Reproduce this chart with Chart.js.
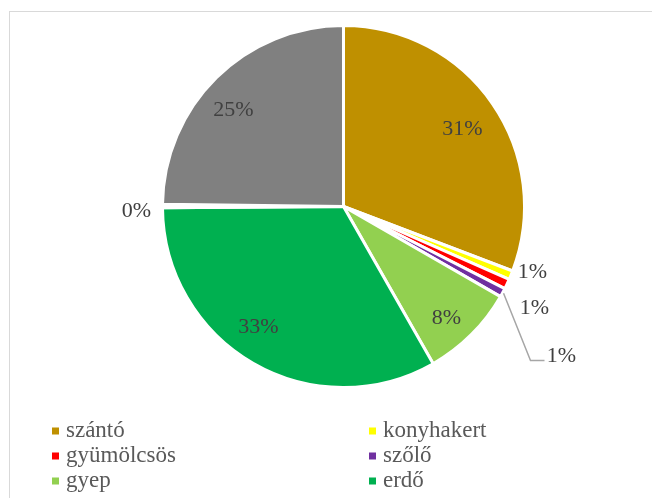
<!DOCTYPE html>
<html>
<head>
<meta charset="utf-8">
<title>Földhasználat</title>
<script src="https://cdn.jsdelivr.net/npm/chart.js@4"></script>
<style>
  html, body { margin: 0; padding: 0; background: #fff; }
  #wrap { position: relative; width: 652px; height: 498px; overflow: hidden; }
  #frame { position: absolute; left: 9px; top: 11px; width: 700px; height: 600px; border: 1px solid #d9d9d9; }
  #landChart { position: absolute; left: 0; top: 0; }
</style>
</head>
<body>
<div id="wrap">
  <div id="frame"></div>
  <canvas id="landChart" width="652" height="498"></canvas>
</div>
<script>
// művelési ágak aránya (%)
const categories = ['szántó', 'konyhakert', 'gyümölcsös', 'szőlő', 'gyep', 'erdő', 'nádas', 'kivett'];
const shares = [30.8, 0.8, 0.9, 0.8, 8.45, 33.15, 0.3, 24.8];
const colors = ['#BF9000', '#FFFF00', '#FF0000', '#7030A0', '#92D050', '#00B050', '#FFFFFF', '#808080'];

// csak az első hat kategória kerül a jelmagyarázatba
const legendCount = 6;

// címkék helye a kör középpontjához képest (px)
const labelOffsets = [
  [119, -77], [189, 66], [191, 102], [218, 150],
  [103, 112], [-85, 121], [-207, 5], [-110, -96]
];

const pieLabels = {
  id: 'pieLabels',
  afterDatasetsDraw(chart) {
    const ctx = chart.ctx;
    const meta = chart.getDatasetMeta(0);
    const values = chart.data.datasets[0].data;
    ctx.save();
    ctx.font = '22px "Liberation Serif", "Times New Roman", serif';
    ctx.fillStyle = '#404040';
    ctx.textAlign = 'center';
    ctx.textBaseline = 'middle';
    meta.data.forEach((arc, i) => {
      const [dx, dy] = labelOffsets[i];
      const x = arc.x + dx, y = arc.y + dy;
      // vezetővonal a szőlő szeletéhez
      if (i === 3) {
        const mid = (arc.startAngle + arc.endAngle) / 2;
        const r = arc.outerRadius + 1;
        ctx.strokeStyle = '#A6A6A6';
        ctx.lineWidth = 1.5;
        ctx.beginPath();
        ctx.moveTo(arc.x + Math.cos(mid) * r, arc.y + Math.sin(mid) * r);
        ctx.lineTo(x - 31, y + 4);
        ctx.lineTo(x - 17, y + 4);
        ctx.stroke();
      }
      ctx.fillText(Math.round(values[i]) + '%', x, y);
    });
    ctx.restore();
  }
};

const gridLegend = {
  id: 'gridLegend',
  afterDraw(chart) {
    const ctx = chart.ctx;
    const ds = chart.data.datasets[0];
    const colX = [52, 369];
    const rowY = [431, 456, 481];
    ctx.save();
    ctx.font = '23px "Liberation Serif", "Times New Roman", serif';
    ctx.textBaseline = 'middle';
    ctx.textAlign = 'left';
    for (let i = 0; i < legendCount; i++) {
      const x = colX[i % 2];
      const y = rowY[Math.floor(i / 2)];
      ctx.fillStyle = ds.backgroundColor[i];
      ctx.fillRect(x, y - 3.5, 7, 7);
      ctx.fillStyle = '#595959';
      ctx.fillText(chart.data.labels[i], x + 14, y);
    }
    ctx.restore();
  }
};

new Chart(document.getElementById('landChart').getContext('2d'), {
  type: 'pie',
  data: {
    labels: categories,
    datasets: [{
      data: shares,
      backgroundColor: colors,
      borderColor: '#ffffff',
      borderWidth: 3,
      hoverOffset: 0
    }]
  },
  options: {
    responsive: false,
    animation: false,
    layout: { padding: { left: 161, top: 24, right: 126, bottom: 109 } },
    plugins: {
      legend: { display: false },
      tooltip: { enabled: false }
    }
  },
  plugins: [pieLabels, gridLegend]
});
</script>
</body>
</html>
